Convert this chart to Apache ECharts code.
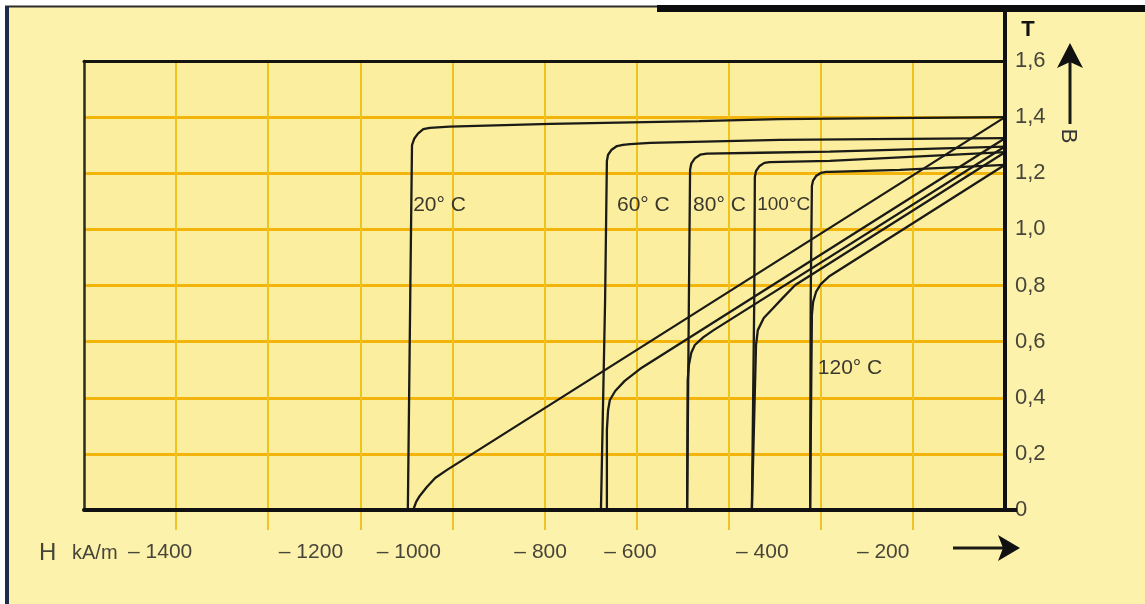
<!DOCTYPE html>
<html><head><meta charset="utf-8">
<script src="https://cdn.jsdelivr.net/npm/echarts@6/dist/echarts.min.js"></script>
<style>html,body{margin:0;padding:0;background:#fdf2ab;}#c{width:1145px;height:604px;}</style>
</head><body><div id="c"></div><script>
// H in kA/m, B in T
const xLabels = [-1400, -1200, -1000, -800, -600, -400, -200];
const gridTicks = [-1395, -1240, -1085, -930, -775, -620, -465, -310, -155];
const j20 = [[0,1.40],[-380,1.393],[-515,1.386],[-765,1.376],[-935,1.366],[-968,1.362],[-979,1.357],[-988,1.341],[-994,1.324],[-998,1.30],[-1001,0.75],[-1005,0]];
const b20 = [[0,1.40],[-939,0.143],[-959,0.114],[-973,0.082],[-985,0.050],[-991,0.029],[-996,0]];
const j60 = [[0,1.325],[-379,1.319],[-597,1.308],[-631,1.304],[-643,1.301],[-653,1.297],[-662,1.284],[-668,1.266],[-670,1.244],[-673,0.75],[-680,0]];
const b60 = [[0,1.325],[-614,0.503],[-640,0.460],[-656,0.424],[-665,0.392],[-668,0.356],[-670,0.285],[-670,0]];
const j80 = [[0,1.295],[-295,1.277],[-412,1.273],[-502,1.270],[-513,1.266],[-522,1.253],[-528,1.234],[-530,1.212],[-532,0.75],[-535,0]];
const b80 = [[0,1.295],[-491,0.640],[-508,0.615],[-522,0.588],[-528,0.560],[-532,0.517],[-534,0.463],[-535,0]];
const j100 = [[0,1.275],[-295,1.244],[-396,1.240],[-405,1.237],[-413,1.226],[-419,1.208],[-421,1.187],[-422,0.75],[-426,0]];
const b100 = [[0,1.275],[-353,0.802],[-374,0.756],[-390,0.720],[-406,0.684],[-416,0.641],[-419,0.588],[-426,0]];
const j120 = [[0,1.23],[-177,1.212],[-295,1.205],[-301,1.205],[-310,1.201],[-318,1.190],[-323,1.174],[-325,1.155],[-327,0.75],[-328,0]];
const b120 = [[0,1.23],[-295,0.834],[-310,0.805],[-318,0.777],[-323,0.741],[-325,0.695],[-328,0]];
const curveLabels = [
  {name:'20° C', at:[-996,1.087], size:21},
  {name:'60° C', at:[-653,1.087], size:21},
  {name:'80° C', at:[-525,1.087], size:21},
  {name:'100°C', at:[-417,1.087], size:19},
  {name:'120° C', at:[-315,0.506], size:21}
];

const FONT = '"Liberation Sans", Arial, sans-serif';
const LAB = '#47453a';
// small per-label shifts (px) so the printed tick numbers sit where the original drawing puts them
const labelShift = {'-1400':-13, '-1200':19, '-1000':-2, '-800':11, '-600':-18, '-400':-5, '-200':-3};
const rich = {};
Object.keys(labelShift).forEach((k, i) => {
  const d = labelShift[k];
  rich['s' + i] = {color:LAB, fontSize:21, fontFamily:FONT, padding: d >= 0 ? [0,0,0,2*d] : [0,-2*d,0,0]};
});
const chart = echarts.init(document.getElementById('c'), null, {renderer:'canvas'});

function curve(data, lab) {
  const s = {type:'line', data:data, xAxisIndex:0, yAxisIndex:0, showSymbol:false, silent:true,
    lineStyle:{color:'#1a1a16', width:2.3}, z:2};
  if (lab) {
    s.markPoint = {symbol:'circle', symbolSize:0, silent:true, data:[{coord:lab.at, value:lab.name,
      label:{show:true, position:'right', distance:0, formatter:lab.name, color:'#3a382e', fontSize:lab.size, fontFamily:FONT}}]};
  }
  return s;
}
const hidden = {axisTick:{show:false}, axisLabel:{show:false}, splitLine:{show:false}};

chart.setOption({
  animation:false,
  backgroundColor:'#fdf2ab',
  grid:{left:84, right:140, top:61, bottom:94, show:true, backgroundColor:'#fcee9f', borderWidth:0, outerBoundsMode:'none'},
  xAxis:[
    {type:'value', min:-1550, max:0, interval:155, position:'bottom', z:1,
      axisLine:{show:false}, axisLabel:{show:false},
      axisTick:{show:true, customValues:gridTicks, length:20, lineStyle:{color:'#f1c22a', width:2}},
      splitLine:{show:true, lineStyle:{color:'#f0c21e', width:2}}},
    Object.assign({type:'value', min:-1550, max:0, position:'bottom', z:4,
      axisLine:{show:true, onZero:false, lineStyle:{color:'#111', width:4}}}, hidden,
      {axisLabel:{show:true, customValues:xLabels, margin:32, rich:rich,
        formatter:v=>{const i = xLabels.indexOf(Math.round(v)); return '{s'+i+'|– '+Math.abs(Math.round(v))+'}';}}}),
    Object.assign({type:'value', min:-1550, max:0, position:'top', z:4,
      axisLine:{show:true, onZero:false, lineStyle:{color:'#151510', width:3}}}, hidden)
  ],
  yAxis:[
    {type:'value', min:0, max:1.6, interval:0.2, position:'right', z:1,
      axisLine:{show:false}, axisTick:{show:false},
      splitLine:{show:true, lineStyle:{color:'#f3b50c', width:3}},
      axisLabel:{formatter:v=>v===0?'0':v.toFixed(1).replace('.',','), color:LAB, fontSize:22, fontFamily:FONT, margin:10}},
    Object.assign({type:'value', min:0, max:1.6, position:'right', z:4,
      axisLine:{show:true, onZero:false, lineStyle:{color:'#111', width:4}}}, hidden),
    Object.assign({type:'value', min:0, max:1.6, position:'left', z:4,
      axisLine:{show:true, onZero:false, lineStyle:{color:'#2a2a20', width:2.5}}}, hidden)
  ],
  series:[
    curve(j20, curveLabels[0]), curve(b20),
    curve(j60, curveLabels[1]), curve(b60),
    curve(j80, curveLabels[2]), curve(b80),
    curve(j100, curveLabels[3]), curve(b100),
    curve(j120, curveLabels[4]), curve(b120)
  ],
  graphic:[
    {type:'rect', shape:{x:0,y:0,width:1145,height:6}, style:{fill:'#ffffff'}, z:10},
    {type:'rect', shape:{x:0,y:0,width:5,height:604}, style:{fill:'#ffffff'}, z:10},
    {type:'line', shape:{x1:5,y1:6.5,x2:660,y2:6.5}, style:{stroke:'#2b2b30', lineWidth:2}, z:11},
    {type:'rect', shape:{x:657,y:5,width:488,height:7}, style:{fill:'#0d0d0d'}, z:11},
    {type:'rect', shape:{x:5,y:6,width:4,height:598}, style:{fill:'#1e2c48'}, z:11},
    {type:'line', shape:{x1:1005,y1:8,x2:1005,y2:62}, style:{stroke:'#111', lineWidth:4}, z:11},
    {type:'line', shape:{x1:1003,y1:510,x2:1017,y2:510}, style:{stroke:'#111', lineWidth:4}, z:11},
    {type:'text', x:1028, y:30, style:{text:'T', font:'bold 22px '+FONT, fill:'#111', align:'center', verticalAlign:'middle'}, z:11},
    {type:'line', shape:{x1:1070,y1:60,x2:1070,y2:124}, style:{stroke:'#1a1a14', lineWidth:3}, z:11},
    {type:'polygon', shape:{points:[[1070,43],[1083,68],[1070,62],[1057,68]]}, style:{fill:'#111'}, z:11},
    {type:'text', x:1068, y:136, rotation:-Math.PI/2, style:{text:'B', font:'22px '+FONT, fill:'#333', align:'center', verticalAlign:'middle'}, z:11},
    {type:'text', x:39, y:553, style:{text:'H', font:'24px '+FONT, fill:LAB, align:'left', verticalAlign:'middle'}, z:11},
    {type:'text', x:72, y:553, style:{text:'kA/m', font:'20px '+FONT, fill:LAB, align:'left', verticalAlign:'middle'}, z:11},
    {type:'line', shape:{x1:953,y1:548,x2:1004,y2:548}, style:{stroke:'#1a1a14', lineWidth:3}, z:11},
    {type:'polygon', shape:{points:[[1020,548],[998,535],[1003,548],[998,561]]}, style:{fill:'#111'}, z:11}
  ]
});
</script></body></html>
